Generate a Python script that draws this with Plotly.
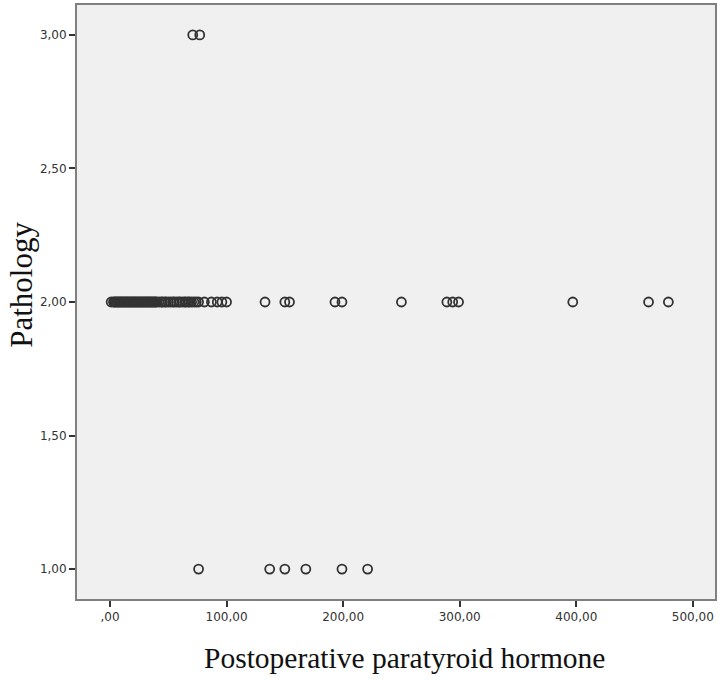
import plotly.graph_objects as go

# Data
pth_group2 = [1, 3, 4, 5, 6, 7, 8, 9, 10, 11, 12, 13, 14, 15, 16, 17, 18, 19, 20, 21, 22,
              23, 24, 25, 26, 27, 28, 29, 30, 31, 32, 33, 34, 35, 36, 37, 38, 39, 40, 42,
              44, 45, 47, 48, 50, 52, 54, 55, 57, 59, 60, 62, 64, 65, 67, 68, 70, 72, 74,
              76, 81, 87, 92, 96, 100, 133, 150, 154, 193, 199, 250, 289, 294, 299, 397,
              462, 479]
pth_group1 = [76, 137, 150, 168, 199, 221]
pth_group3 = [71, 77]

x_vals = pth_group1 + pth_group2 + pth_group3
y_vals = [1.0] * len(pth_group1) + [2.0] * len(pth_group2) + [3.0] * len(pth_group3)

x_ticks = [0, 100, 200, 300, 400, 500]
x_ticktext = [",00", "100,00", "200,00", "300,00", "400,00", "500,00"]
y_ticks = [1.0, 1.5, 2.0, 2.5, 3.0]
y_ticktext = ["1,00", "1,50", "2,00", "2,50", "3,00"]

x_title = "Postoperative paratyroid hormone"
y_title = "Pathology"

fig = go.Figure()
fig.add_trace(go.Scatter(
    x=x_vals, y=y_vals, mode="markers",
    marker=dict(symbol="circle-open", size=9, color="#333333", line=dict(width=1.8)),
    showlegend=False,
))

axis_common = dict(
    showline=True, linecolor="#808080", linewidth=2, mirror=True,
    ticks="outside", ticklen=6, tickwidth=1.5, tickcolor="#333333",
    showgrid=False, zeroline=False, automargin=False,
    tickfont=dict(family="DejaVu Sans", size=12, color="#333333"),
)

fig.update_xaxes(range=[-28.3, 519], tickvals=x_ticks, ticktext=x_ticktext, **axis_common)
fig.update_yaxes(range=[0.888, 3.112], tickvals=y_ticks, ticktext=y_ticktext, **axis_common)

fig.add_annotation(
    text=x_title, xref="paper", yref="paper", x=0.514, y=0, yshift=-59,
    xanchor="center", yanchor="middle", showarrow=False,
    font=dict(family="Liberation Serif", size=29.5, color="#111111"),
)
fig.add_annotation(
    text=y_title, xref="paper", yref="paper", x=0, y=0.529, xshift=-55,
    xanchor="center", yanchor="middle", textangle=-90, showarrow=False,
    font=dict(family="Liberation Serif", size=31, color="#111111"),
)

fig.update_layout(
    width=721, height=680,
    margin=dict(l=77, r=6, t=5, b=81),
    paper_bgcolor="white", plot_bgcolor="#f0f0f0",
)

fig.write_html("out.html", config={"displayModeBar": False},
               post_script="document.body.style.margin='0';")
